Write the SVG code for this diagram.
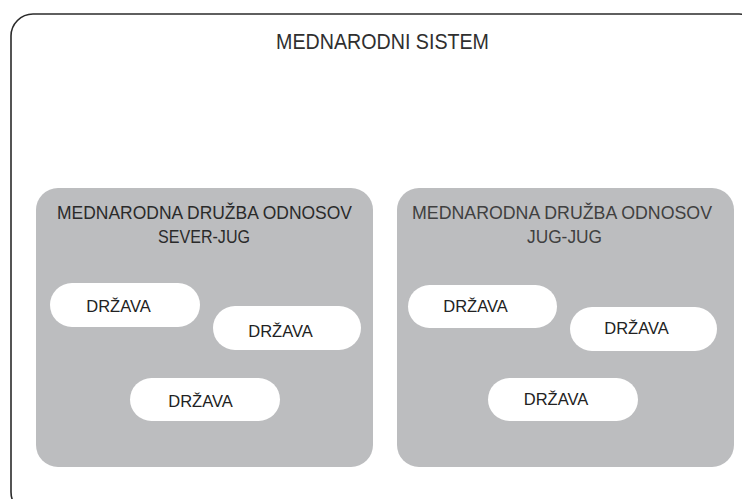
<svg xmlns="http://www.w3.org/2000/svg" width="742" height="499" viewBox="0 0 742 499">
<style>
text{font-family:"Liberation Sans",Arial,sans-serif;text-anchor:middle}
.title{font-size:22px;fill:#2f2f2f}
.hdr{font-size:19px;fill:#2a2a2a}
.hdr2{font-size:19px;fill:#404040}
.st{font-size:16.5px;fill:#222}
.grp{fill:#bcbdbf}
.pill{fill:#ffffff}
</style>
<rect width="742" height="499" fill="#ffffff"/>
<g id="sistem">
<rect x="11" y="14" width="750" height="500" rx="22" fill="#ffffff" stroke="#2b2b2b" stroke-width="1.6"/>
<text class="title" x="382.5" y="49" textLength="213" lengthAdjust="spacingAndGlyphs">MEDNARODNI SISTEM</text>
</g>
<g id="sever-jug">
<rect class="grp" x="36" y="188" width="337" height="279" rx="22"/>
<text class="hdr" x="204.5" y="219" textLength="295" lengthAdjust="spacingAndGlyphs">MEDNARODNA DRUŽBA ODNOSOV</text>
<text class="hdr" x="204" y="243" textLength="92" lengthAdjust="spacingAndGlyphs">SEVER-JUG</text>
</g>
<g id="jug-jug">
<rect class="grp" x="397" y="188" width="337" height="279" rx="22"/>
<text class="hdr2" x="562" y="219" textLength="300" lengthAdjust="spacingAndGlyphs">MEDNARODNA DRUŽBA ODNOSOV</text>
<text class="hdr2" x="564.5" y="243" textLength="75" lengthAdjust="spacingAndGlyphs">JUG-JUG</text>
</g>
<g id="drzava-l1"><rect class="pill" x="50" y="283" width="150" height="44" rx="22"/><text class="st" x="118.5" y="312">DRŽAVA</text></g>
<g id="drzava-l2"><rect class="pill" x="213" y="306" width="148" height="44" rx="22"/><text class="st" x="280.5" y="337">DRŽAVA</text></g>
<g id="drzava-l3"><rect class="pill" x="130" y="378" width="150" height="43" rx="21.5"/><text class="st" x="200.5" y="407">DRŽAVA</text></g>
<g id="drzava-r1"><rect class="pill" x="408" y="285" width="149" height="43" rx="21.5"/><text class="st" x="475.5" y="312">DRŽAVA</text></g>
<g id="drzava-r2"><rect class="pill" x="570" y="307" width="147" height="44" rx="22"/><text class="st" x="636.5" y="334">DRŽAVA</text></g>
<g id="drzava-r3"><rect class="pill" x="488" y="378" width="150" height="43" rx="21.5"/><text class="st" x="556" y="405">DRŽAVA</text></g>
<g id="connectors"></g>
</svg>
